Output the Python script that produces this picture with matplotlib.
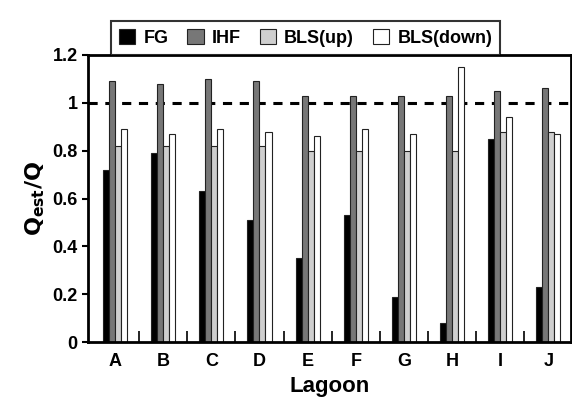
import matplotlib
matplotlib.use("Agg")
import matplotlib.pyplot as plt
import numpy as np
from matplotlib.ticker import FixedLocator

categories = ["A", "B", "C", "D", "E", "F", "G", "H", "I", "J"]
fg = [0.72, 0.79, 0.63, 0.51, 0.35, 0.53, 0.19, 0.08, 0.85, 0.23]
ihf = [1.09, 1.08, 1.10, 1.09, 1.03, 1.03, 1.03, 1.03, 1.05, 1.06]
bls_up = [0.82, 0.82, 0.82, 0.82, 0.80, 0.80, 0.80, 0.80, 0.88, 0.88]
bls_down = [0.89, 0.87, 0.89, 0.88, 0.86, 0.89, 0.87, 1.15, 0.94, 0.87]
series_names = ["FG", "IHF", "BLS(up)", "BLS(down)"]
yticks = [0, 0.2, 0.4, 0.6, 0.8, 1, 1.2]
ytick_labels = ["0", "0.2", "0.4", "0.6", "0.8", "1", "1.2"]

plt.rcParams['font.family'] = ['Liberation Sans', 'DejaVu Sans']
plt.rcParams['font.weight'] = 'bold'

fig = plt.figure(figsize=(5.72, 4.04), dpi=100)
ax = fig.add_axes([0.154, 0.153, 0.845, 0.711])

x = np.arange(len(categories))
w = 0.125
colors = ["black", "#777777", "#cfcfcf", "white"]
data = [fg, ihf, bls_up, bls_down]
handles = []
for i, (vals, c, name) in enumerate(zip(data, colors, series_names)):
    b = ax.bar(x - 1.5 * w + i * w, vals, w, color=c, edgecolor="#222222",
               linewidth=0.8, label=name)
    handles.append(b)

ax.axhline(1.0, color="black", linestyle=(0, (3, 2.5)), linewidth=2.2, zorder=0.5)

ax.set_xlim(-0.56, 9.48)
ax.set_ylim(0, 1.2)
ax.set_xticks(x)
ax.set_xticklabels(categories, fontsize=13, fontweight='bold')
ax.tick_params(axis='x', which='major', length=0, pad=8)
ax.xaxis.set_minor_locator(FixedLocator(x[:-1] + 0.5))
ax.tick_params(axis='x', which='minor', direction='in', length=8, width=1.2)
ax.set_yticks(yticks)
ax.set_yticklabels(ytick_labels, fontsize=13, fontweight='bold')
ax.tick_params(axis='y', direction='out', length=4, width=1.5)

for s in ax.spines.values():
    s.set_linewidth(2)

ax.set_xlabel("Lagoon", fontsize=16, fontweight='bold', labelpad=4)
ax.set_ylabel(r"$\mathbf{Q_{est}/Q}$", fontsize=16, labelpad=4)

leg = fig.legend(handles=handles, labels=series_names, loc='upper left',
                 bbox_to_anchor=(102 / 572, 1 - 12 / 404), ncol=4,
                 frameon=True, fancybox=False, edgecolor="black",
                 prop={'weight': 'bold', 'size': 13},
                 handlelength=0.9, handleheight=0.9, columnspacing=1.05,
                 handletextpad=0.45, borderpad=0.45)
leg.get_frame().set_linewidth(1.5)

fig.savefig("out.png", dpi=100)
